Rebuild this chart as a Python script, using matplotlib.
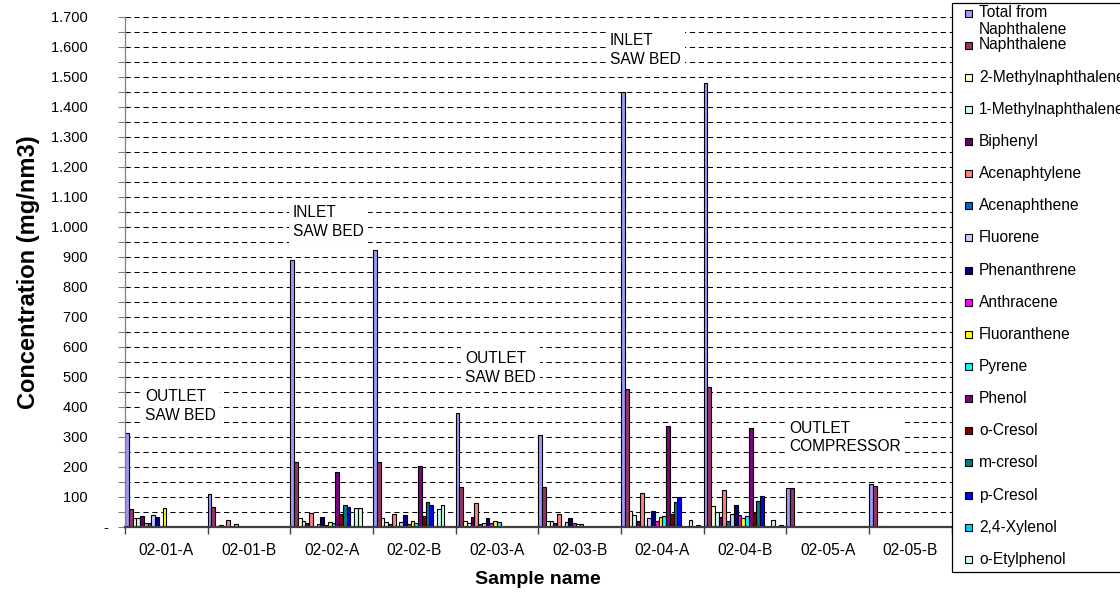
import matplotlib
matplotlib.use("Agg")
import matplotlib.pyplot as plt
import numpy as np
from matplotlib.patches import Rectangle
from matplotlib.ticker import FuncFormatter, MultipleLocator

plt.rcParams['font.family'] = ['Liberation Sans', 'DejaVu Sans']

samples = ['02-01-A', '02-01-B', '02-02-A', '02-02-B', '02-03-A',
           '02-03-B', '02-04-A', '02-04-B', '02-05-A', '02-05-B']

names = ['Total from\nNaphthalene', 'Naphthalene', '2-Methylnaphthalene',
         '1-Methylnaphthalene', 'Biphenyl', 'Acenaphtylene', 'Acenaphthene',
         'Fluorene', 'Phenanthrene', 'Anthracene', 'Fluoranthene', 'Pyrene',
         'Phenol', 'o-Cresol', 'm-cresol', 'p-Cresol', '2,4-Xylenol',
         'o-Etylphenol']

# Excel 2003 default series fills (last ones belong to series cut off from the legend)
colors = ['#9999FF', '#993366', '#FFFFCC', '#CCFFFF', '#660066', '#FF8080',
          '#0066CC', '#CCCCFF', '#000080', '#FF00FF', '#FFFF00', '#00FFFF',
          '#800080', '#800000', '#008080', '#0000FF', '#00CCFF', '#CCFFFF',
          '#CCFFCC', '#FFFF99', '#99CCFF', '#FF99CC']

total = [311, 109, 890, 922, 378, 306, 1450, 1480, 128, 141]
naphthalene = [58, 67, 217, 217, 131, 131, 458, 467, 128, 136]
methyl2 = [30, 2, 28, 28, 19, 19, 53, 69, 0, 0]
methyl1 = [30, 6, 19, 17, 11, 19, 39, 50, 0, 4]
biphenyl = [36, 0, 11, 9, 33, 14, 20, 33, 0, 0]
acenaphtylene = [11, 22, 47, 42, 78, 41, 111, 122, 0, 0]
acenaphthene = [11, 0, 0, 0, 9, 0, 3, 19, 0, 0]
fluorene = [40, 8, 9, 17, 13, 17, 28, 44, 0, 0]
phenanthrene = [32, 0, 31, 39, 28, 28, 53, 74, 0, 0]
anthracene = [0, 0, 6, 9, 11, 11, 20, 39, 0, 0]
fluoranthene = [64, 0, 17, 19, 20, 8, 33, 28, 0, 0]
pyrene = [0, 0, 11, 11, 17, 9, 36, 36, 0, 0]
phenol = [0, 0, 183, 202, 0, 0, 336, 328, 0, 0]
o_cresol = [0, 0, 41, 37, 0, 0, 41, 48, 0, 0]
m_cresol = [0, 0, 74, 83, 0, 0, 81, 86, 0, 0]
p_cresol = [0, 0, 67, 72, 0, 0, 100, 103, 0, 0]
xylenol = [0, 0, 0, 0, 0, 0, 0, 0, 0, 0]
etylphenol = [0, 0, 64, 59, 0, 0, 0, 0, 0, 0]
# series beyond the visible legend entries
extra19 = [0, 0, 64, 72, 0, 0, 22, 22, 0, 0]
extra20 = [0, 0, 0, 0, 0, 0, 0, 0, 0, 0]
extra21 = [0, 0, 0, 0, 0, 0, 6, 6, 0, 0]
extra22 = [0, 0, 0, 0, 0, 0, 0, 0, 0, 0]

series = [total, naphthalene, methyl2, methyl1, biphenyl, acenaphtylene,
          acenaphthene, fluorene, phenanthrene, anthracene, fluoranthene,
          pyrene, phenol, o_cresol, m_cresol, p_cresol, xylenol, etylphenol,
          extra19, extra20, extra21, extra22]

W, H = 1120, 595
fs = 11.2

fig = plt.figure(figsize=(W / 100, H / 100), dpi=100)
ax = fig.add_axes([125 / W, 1 - 526.7 / H, 826.7 / W, 510 / H])

x = np.arange(len(samples))
bw = 1.0 / len(series)
for k, vals in enumerate(series):
    ax.bar(x + (k + 0.5) * bw, vals, bw, color=colors[k],
           edgecolor='black', linewidth=0.8, zorder=2)

# axes
ax.set_xlim(0, len(samples))
ax.set_ylim(0, 1700)
ax.set_xticks(np.arange(len(samples) + 1), [''] * (len(samples) + 1))
ax.set_xticks(x + 0.5, samples, minor=True)
ax.tick_params(axis='x', which='major', length=5, width=1, color='#404040')
ax.tick_params(axis='x', which='minor', length=0, pad=12, labelsize=fs)

ax.yaxis.set_major_locator(MultipleLocator(100))
ax.yaxis.set_minor_locator(MultipleLocator(50))
ax.yaxis.set_major_formatter(FuncFormatter(
    lambda v, p: '-' if v == 0 else f'{v:,.0f}'.replace(',', '.') + '     '))
ax.tick_params(axis='y', which='both', length=5, width=0.8, color='#808080',
               labelsize=10.5, pad=7)

ax.yaxis.grid(True, which='both', color='black', linewidth=0.75,
              linestyle=(0, (5, 3.6)), zorder=0.5)
ax.set_axisbelow(True)

for s in ['top', 'right']:
    ax.spines[s].set_visible(False)
ax.spines['left'].set_color('#808080')
ax.spines['left'].set_linewidth(0.9)
ax.spines['bottom'].set_color('#404040')
ax.spines['bottom'].set_linewidth(1.6)

ax.set_xlabel('Sample name', fontsize=14, fontweight='bold')
ax.set_ylabel('Concentration (mg/nm3)', fontsize=17, fontweight='bold')
ax.xaxis.label.set_va('center')
ax.yaxis.label.set_va('center')
ax.xaxis.set_label_coords(0.5, (526.7 - 580) / 510)
ax.yaxis.set_label_coords((29 - 125) / 826.7, 0.5)

# location notes
notes = [('OUTLET\nSAW BED', 145, 406),
         ('INLET\nSAW BED', 293, 222),
         ('OUTLET\nSAW BED', 465, 368),
         ('INLET\nSAW BED', 610, 50),
         ('OUTLET\nCOMPRESSOR', 789, 437.5)]
for txt, px, py in notes:
    ax.text(px / W, 1 - py / H, txt, transform=fig.transFigure, ha='left',
            va='center', fontsize=fs, linespacing=1.3, zorder=1.5,
            bbox=dict(facecolor='white', edgecolor='none', pad=3))

# legend (box runs past the right edge like the original)
fig.add_artist(Rectangle((951.7 / W, 1 - 571.7 / H), 200 / W, 568.4 / H,
                         transform=fig.transFigure, facecolor='white',
                         edgecolor='black', linewidth=0.9))
for i, name in enumerate(names):
    yc = 13.5 + 32.15 * i if i == 0 else 12.85 + 32.15 * i
    fig.add_artist(Rectangle((965 / W, 1 - (yc + 3.5) / H), 7 / W, 7 / H,
                             transform=fig.transFigure, facecolor=colors[i],
                             edgecolor='black', linewidth=0.8))
    if '\n' in name:
        fig.text(979 / W, 1 - (yc - 8.5) / H, name, ha='left', va='top',
                 fontsize=fs, linespacing=1.15)
    else:
        fig.text(979 / W, 1 - yc / H, name, ha='left', va='center', fontsize=fs)

fig.savefig('out.png', dpi=100)
